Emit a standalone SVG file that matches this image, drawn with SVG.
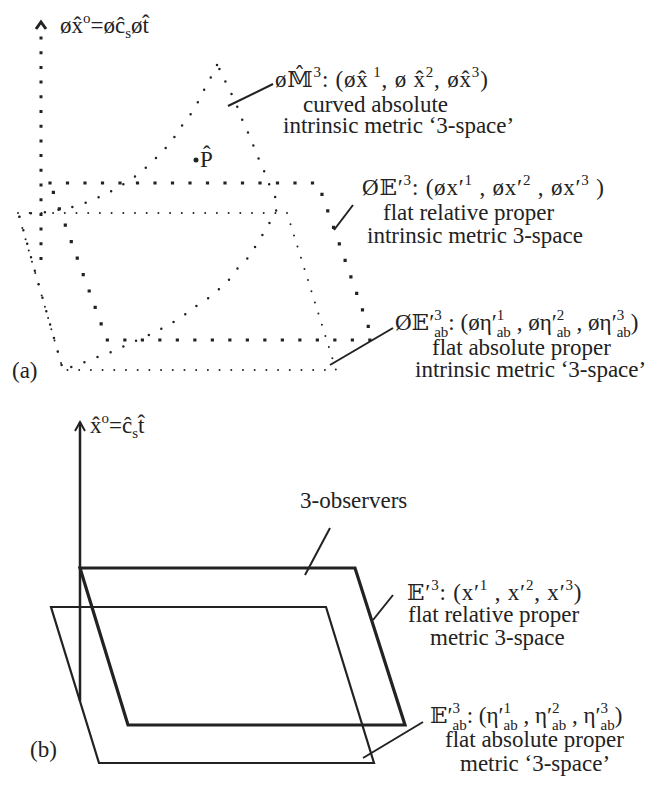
<svg xmlns="http://www.w3.org/2000/svg" width="646" height="785" viewBox="0 0 646 785">
<style>
text{font-family:"Liberation Serif","DejaVu Serif","DejaVu Sans",serif;font-size:23px;fill:#222}
.s{font-size:15px}
.f{letter-spacing:0.8px}
.lead{stroke:#222;stroke-width:2;fill:none}
.axisdot{stroke:#222;stroke-width:3;stroke-linecap:square;stroke-dasharray:0 14.7;fill:none}
.bold{stroke:#222;stroke-width:3.2;stroke-linecap:square;stroke-dasharray:0 17.5;fill:none}
.fine{stroke:#222;stroke-width:2;stroke-linecap:round;stroke-dasharray:0 11.7;fill:none}
.curve{stroke:#222;stroke-width:2.5;stroke-linecap:round;stroke-dasharray:0 14;fill:none}
.solid{stroke:#222;stroke-width:3.2;fill:none;stroke-linejoin:miter}
.thin{stroke:#222;stroke-width:2.2;fill:none}
</style>
<g id="panel-a">
<g id="axis-a">
<path class="axisdot" d="M41,38 L41,259"/>
<path d="M36,29 L41,22 L46,29" stroke="#222" stroke-width="3" fill="none"/>
<text x="60" y="33">øx̂<tspan class="s" dy="-10">o</tspan><tspan dy="10">=øĉ</tspan><tspan class="s" dy="5">s</tspan><tspan dy="-5">øt̂</tspan></text>
</g>
<g id="M3">
<path class="curve" d="M217,65 L210,79 203,92 197,104 189,117 180,128 172,141 162,152 152,162 141,172 129,181 117,188 104,195 90,201 77,206 62,209 48,212 33,213 19,215 L63,370 L77,365 90,360 103,355 117,350 130,343 143,338 157,331 170,324 182,317 193,308 206,300 217,291 228,281 237,269 247,259 255,247 263,234 270,222 277,209 275,196 268,182 263,168 257,155 252,142 246,128 240,115 235,100 228,88 222,73 Z"/>
</g>
<g id="E3rel">
<path class="bold" d="M50,183 L318,183 L373,340 L107,340 Z"/>
</g>
<g id="E3abs">
<path class="fine" d="M18,213 L287,213 L336,370 L63,370 Z"/>
</g>
<g id="P">
<circle cx="196" cy="160" r="2.5" fill="#222"/>
<text x="200" y="167">P̂</text>
</g>
<g id="label-M3">
<text class="f" x="275" y="87">ø𝕄̂<tspan class="s" dy="-10">3</tspan><tspan dy="10">: (øx̂</tspan><tspan class="s" dy="-10"> 1</tspan><tspan dy="10">, ø x̂</tspan><tspan class="s" dy="-10">2</tspan><tspan dy="10">, øx̂</tspan><tspan class="s" dy="-10">3</tspan><tspan dy="10">)</tspan></text>
<text x="303" y="112">curved absolute</text>
<text x="283" y="133">intrinsic metric ‘3-space’</text>
</g>
<g id="label-E3rel-a">
<text class="f" x="362" y="195">Ø𝔼′<tspan class="s" dy="-10">3</tspan><tspan dy="10">: (øx′</tspan><tspan class="s" dy="-10">1</tspan><tspan dy="10"> , øx′</tspan><tspan class="s" dy="-10">2</tspan><tspan dy="10"> , øx′</tspan><tspan class="s" dy="-10">3</tspan><tspan dy="10"> )</tspan></text>
<text x="383" y="220">flat relative proper</text>
<text x="367" y="243">intrinsic metric 3-space</text>
</g>
<g id="label-E3abs-a">
<text x="395" y="330">Ø𝔼′<tspan class="s" dy="-10">3</tspan><tspan class="s" dx="-7.5" dy="17">ab</tspan><tspan dy="-7">: (øη′</tspan><tspan class="s" dy="-10">1</tspan><tspan class="s" dx="-7.5" dy="17">ab</tspan><tspan dy="-7"> , øη′</tspan><tspan class="s" dy="-10">2</tspan><tspan class="s" dx="-7.5" dy="17">ab</tspan><tspan dy="-7"> , øη′</tspan><tspan class="s" dy="-10">3</tspan><tspan class="s" dx="-7.5" dy="17">ab</tspan><tspan dy="-7">)</tspan></text>
<text x="432" y="355">flat absolute proper</text>
<text x="415" y="377">intrinsic metric ‘3-space’</text>
</g>
<text x="12" y="378">(a)</text>
</g>
<g id="panel-b">
<g id="axis-b">
<path d="M80,701 L80,422" stroke="#222" stroke-width="2.5" fill="none"/>
<path d="M75,431 L80,422 L85,431" stroke="#222" stroke-width="2" fill="none"/>
<text x="90" y="433">x̂<tspan class="s" dy="-10">o</tspan><tspan dy="10">=ĉ</tspan><tspan class="s" dy="5">s</tspan><tspan dy="-5">t̂</tspan></text>
</g>
<g id="E3rel-b">
<path class="solid" d="M80,568 L355,568 L405,725 L128,725 Z"/>
</g>
<g id="E3abs-b">
<path class="thin" d="M51,607 L326,607 L374,763 L99,763 Z"/>
</g>
<g id="label-obs">
<text x="300" y="508">3-observers</text>
</g>
<g id="label-E3rel-b">
<text class="f" x="407" y="600">𝔼′<tspan class="s" dy="-10">3</tspan><tspan dy="10">: (x′</tspan><tspan class="s" dy="-10">1</tspan><tspan dy="10"> , x′</tspan><tspan class="s" dy="-10">2</tspan><tspan dy="10">, x′</tspan><tspan class="s" dy="-10">3</tspan><tspan dy="10">)</tspan></text>
<text x="408" y="622">flat relative proper</text>
<text x="430" y="645">metric 3-space</text>
</g>
<g id="label-E3abs-b">
<text x="430" y="723">𝔼′<tspan class="s" dy="-10">3</tspan><tspan class="s" dx="-7.5" dy="17">ab</tspan><tspan dy="-7">: (η′</tspan><tspan class="s" dy="-10">1</tspan><tspan class="s" dx="-7.5" dy="17">ab</tspan><tspan dy="-7"> , η′</tspan><tspan class="s" dy="-10">2</tspan><tspan class="s" dx="-7.5" dy="17">ab</tspan><tspan dy="-7"> , η′</tspan><tspan class="s" dy="-10">3</tspan><tspan class="s" dx="-7.5" dy="17">ab</tspan><tspan dy="-7">)</tspan></text>
<text x="445" y="747">flat absolute proper</text>
<text x="460" y="771">metric ‘3-space’</text>
</g>
<text x="30" y="757">(b)</text>
</g>
<g id="connectors">
<path class="lead" d="M228,106 L273,84"/>
<path class="lead" d="M334,230 L353,205"/>
<path class="lead" d="M330,365 L393,328"/>
<path class="lead" d="M305,575 L330,528"/>
<path class="lead" d="M373,620 L393,595"/>
<path class="lead" d="M363,758 L423,722"/>
</g>
</svg>
